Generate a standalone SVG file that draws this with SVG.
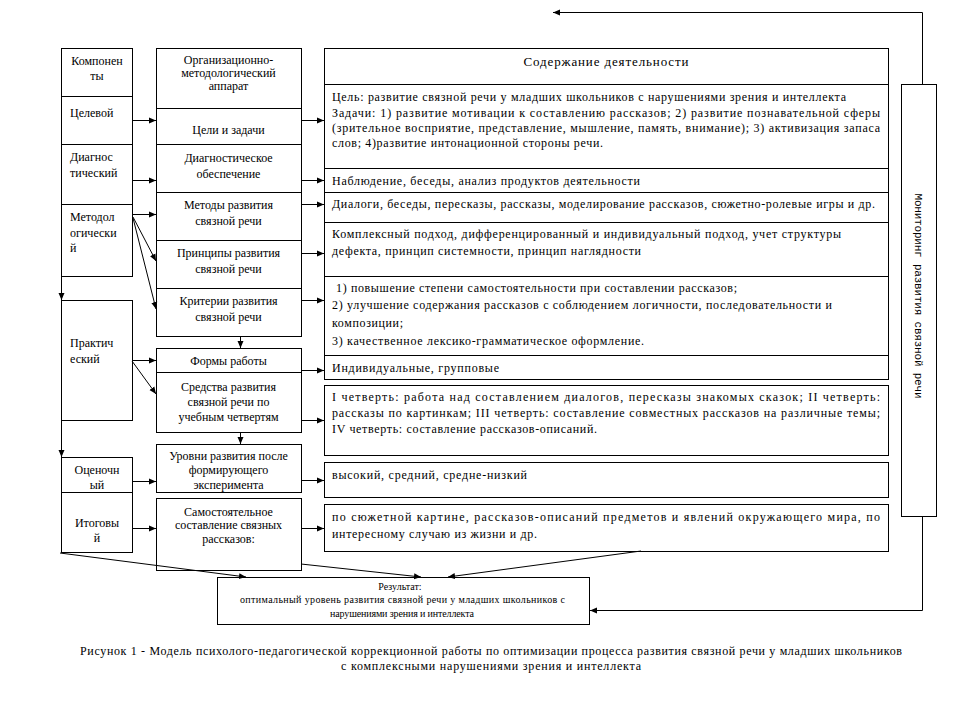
<svg xmlns="http://www.w3.org/2000/svg" width="973" height="721" viewBox="0 0 973 721">
<style>
.b{fill:#fff;stroke:#000;stroke-width:1}
.t{font-size:12px;fill:#000}
.c{text-anchor:middle}
.s{font-size:10px}
.m{font-size:11px;fill:#000}
.l{stroke:#000;stroke-width:1;fill:none}
.ar{marker-end:url(#a)}
</style>
<defs>
<marker id="a" markerWidth="8" markerHeight="8" refX="7" refY="3.5" orient="auto" markerUnits="userSpaceOnUse"><path d="M0,0.5 L7,3.5 L0,6.5 z" fill="#000"/></marker>
</defs>
<rect width="973" height="721" fill="#fff"/>
<g font-family="Liberation Serif, DejaVu Serif, serif">
<g id="left">
<g id="n-komponenty"><rect class="b" x="61.5" y="48.5" width="71" height="48"/><text class="t c" x="97" y="65">Компонен</text><text class="t c" x="97" y="80">ты</text></g>
<g id="n-celevoy"><rect class="b" x="61.5" y="96.5" width="71" height="48"/><text class="t" x="70" y="117">Целевой</text></g>
<g id="n-diagn"><rect class="b" x="61.5" y="144.5" width="71" height="60"/><text class="t" x="70" y="161">Диагнос</text><text class="t" x="70" y="177">тический</text></g>
<g id="n-metod"><rect class="b" x="61.5" y="204.5" width="71" height="72"/><text class="t" x="70" y="221">Методол</text><text class="t" x="70" y="237">огически</text><text class="t" x="70" y="252">й</text></g>
<g id="n-prakt"><rect class="b" x="61.5" y="300.5" width="71" height="120"/><text class="t" x="70" y="347">Практич</text><text class="t" x="70" y="363">еский</text></g>
<g id="n-ocen"><rect class="b" x="61.5" y="457.5" width="71" height="35"/><text class="t c" x="97" y="474">Оценочн</text><text class="t c" x="97" y="489">ый</text></g>
<g id="n-itog"><rect class="b" x="61.5" y="492.5" width="71" height="60"/><text class="t c" x="97" y="527">Итоговы</text><text class="t c" x="97" y="542">й</text></g>
</g>

<g id="middle">
<g id="n-org"><rect class="b" x="156.5" y="48.5" width="145" height="60"/><text class="t c" x="228.5" y="64">Организационно-</text><text class="t c" x="228.5" y="77">методологический</text><text class="t c" x="228.5" y="90">аппарат</text></g>
<g id="n-celi"><rect class="b" x="156.5" y="108.5" width="145" height="36"/><text class="t c" x="228.5" y="134">Цели и задачи</text></g>
<g id="n-diagobesp"><rect class="b" x="156.5" y="144.5" width="145" height="48"/><text class="t c" x="228.5" y="162">Диагностическое</text><text class="t c" x="228.5" y="178">обеспечение</text></g>
<g id="n-metody"><rect class="b" x="156.5" y="192.5" width="145" height="48"/><text class="t c" x="228.5" y="209">Методы развития</text><text class="t c" x="228.5" y="225">связной речи</text></g>
<g id="n-princ"><rect class="b" x="156.5" y="240.5" width="145" height="48"/><text class="t c" x="228.5" y="257">Принципы развития</text><text class="t c" x="228.5" y="273">связной речи</text></g>
<g id="n-krit"><rect class="b" x="156.5" y="288.5" width="145" height="48"/><text class="t c" x="228.5" y="305">Критерии развития</text><text class="t c" x="228.5" y="321">связной речи</text></g>
<g id="n-formy"><rect class="b" x="156.5" y="348.5" width="145" height="24"/><text class="t c" x="228.5" y="365">Формы работы</text></g>
<g id="n-sredstva"><rect class="b" x="156.5" y="372.5" width="145" height="60"/><text class="t c" x="228.5" y="391">Средства развития</text><text class="t c" x="228.5" y="406">связной речи по</text><text class="t c" x="228.5" y="421">учебным четвертям</text></g>
<g id="n-urovni"><rect class="b" x="156.5" y="444.5" width="145" height="48"/><text class="t c" x="228.5" y="460">Уровни развития после</text><text class="t c" x="228.5" y="474">формирующего</text><text class="t c" x="228.5" y="489">эксперимента</text></g>
<g id="n-samost"><rect class="b" x="156.5" y="498.5" width="145" height="72"/><text class="t c" x="228.5" y="516">Самостоятельное</text><text class="t c" x="228.5" y="529">составление связных</text><text class="t c" x="228.5" y="543">рассказов:</text></g>
</g>

<g id="right">
<g id="n-header"><rect class="b" x="324.5" y="48.5" width="564" height="36"/><text class="t c" x="606" y="66" style="font-size:13px" textLength="165">Содержание деятельности</text></g>
<g id="n-cel"><rect class="b" x="324.5" y="84.5" width="564" height="84"/>
<text class="t" x="332" y="101" textLength="514">Цель: развитие связной речи у младших школьников с нарушениями зрения и интеллекта</text>
<text class="t" x="332" y="117" textLength="548">Задачи: 1) развитие мотивации к составлению рассказов; 2) развитие познавательной сферы</text>
<text class="t" x="332" y="132" textLength="548">(зрительное восприятие, представление, мышление, память, внимание); 3) активизация запаса</text>
<text class="t" x="332" y="147" textLength="271">слов; 4)развитие интонационной стороны речи.</text></g>
<g id="n-nabl"><rect class="b" x="324.5" y="168.5" width="564" height="24"/><text class="t" x="332" y="185" textLength="308">Наблюдение, беседы, анализ продуктов деятельности</text></g>
<g id="n-dialogi"><rect class="b" x="324.5" y="192.5" width="564" height="30"/><text class="t" x="332" y="208" textLength="543">Диалоги, беседы, пересказы, рассказы, моделирование рассказов, сюжетно-ролевые игры и др.</text></g>
<g id="n-kompl"><rect class="b" x="324.5" y="222.5" width="564" height="54"/><text class="t" x="332" y="238" textLength="509">Комплексный подход, дифференцированный и индивидуальный подход, учет структуры</text><text class="t" x="332" y="255" textLength="309">дефекта, принцип системности, принцип наглядности</text></g>
<g id="n-krit-c"><rect class="b" x="324.5" y="276.5" width="564" height="79"/>
<text class="t" x="336" y="292" textLength="401">1) повышение степени самостоятельности при составлении рассказов;</text>
<text class="t" x="332" y="309" textLength="500">2) улучшение содержания рассказов с соблюдением логичности, последовательности и</text>
<text class="t" x="332" y="327" textLength="71">композиции;</text>
<text class="t" x="332" y="345" textLength="312">3) качественное лексико-грамматическое оформление.</text></g>
<g id="n-indiv"><rect class="b" x="324.5" y="355.5" width="564" height="24"/><text class="t" x="332" y="372" textLength="167">Индивидуальные, групповые</text></g>
<g id="n-chetv"><rect class="b" x="324.5" y="385.5" width="564" height="70"/>
<text class="t" x="332" y="401" textLength="548">I четверть: работа над составлением диалогов, пересказы знакомых сказок; II четверть:</text>
<text class="t" x="332" y="417" textLength="548">рассказы по картинкам; III четверть: составление совместных рассказов на различные темы;</text>
<text class="t" x="332" y="433" textLength="265">IV четверть: составление рассказов-описаний.</text></g>
<g id="n-vys"><rect class="b" x="324.5" y="462.5" width="564" height="35"/><text class="t" x="332" y="479" textLength="195">высокий, средний, средне-низкий</text></g>
<g id="n-syuzh"><rect class="b" x="324.5" y="504.5" width="564" height="47"/><text class="t" x="332" y="521" textLength="548">по сюжетной картине, рассказов-описаний предметов и явлений окружающего мира, по</text><text class="t" x="332" y="538" textLength="205">интересному случаю из жизни и др.</text></g>
</g>

<g id="n-monitoring"><rect class="b" x="901.5" y="84.5" width="35" height="432"/><text class="m" font-family="Liberation Mono, DejaVu Sans Mono, monospace" text-anchor="middle" transform="translate(915,296) rotate(90)" textLength="205">Мониторинг развития связной речи</text></g>

<g id="n-result"><rect class="b" x="217.5" y="577.5" width="372" height="47"/>
<text class="t s c" x="400" y="590">Результат:</text>
<text class="t s" x="240" y="603" textLength="325">оптимальный уровень развития связной речи у младших школьников с</text>
<text class="t s" x="330" y="617" textLength="144">нарушениями зрения и интеллекта</text></g>

<g id="connectors">
<path class="l ar" d="M132,120.5 H156"/>
<path class="l ar" d="M132,180.5 H156"/>
<path class="l ar" d="M132,214.5 H156"/>
<path class="l ar" d="M133,217 L156,261"/>
<path class="l ar" d="M133,218 L156,309"/>
<path class="l ar" d="M132,360.5 H156"/>
<path class="l ar" d="M132,361 L156,394"/>
<path class="l ar" d="M132,481.5 H156"/>
<path class="l ar" d="M132,528.5 H156"/>
<path class="l ar" d="M61.5,276 V300"/>
<path class="l ar" d="M61.5,420 V457"/>
<path class="l ar" d="M240.5,336 V348"/>
<path class="l ar" d="M240.5,432 V444"/>
<path class="l ar" d="M301,120.5 H324"/>
<path class="l ar" d="M301,180.5 H324"/>
<path class="l ar" d="M301,204.5 H324"/>
<path class="l ar" d="M301,253.5 H324"/>
<path class="l ar" d="M301,300.5 H324"/>
<path class="l ar" d="M301,370.5 H324"/>
<path class="l ar" d="M301,420.5 H324"/>
<path class="l ar" d="M301,480.5 H324"/>
<path class="l ar" d="M301,528.5 H324"/>
<path class="l ar" d="M60,553 L246,577"/>
<path class="l ar" d="M301,564 L421,577"/>
<path class="l ar" d="M641,551 L448,577"/>
<path class="l ar" d="M922.5,84 V12.5 H553"/>
<path class="l ar" d="M922.5,517 V610.5 H590"/>
</g>

<g id="caption">
<text class="t" x="80" y="655" textLength="822">Рисунок 1 - Модель психолого-педагогической коррекционной работы по оптимизации процесса развития связной речи у младших школьников</text>
<text class="t" x="341" y="670" textLength="300">с комплексными нарушениями зрения и интеллекта</text>
</g>
</g>
</svg>
